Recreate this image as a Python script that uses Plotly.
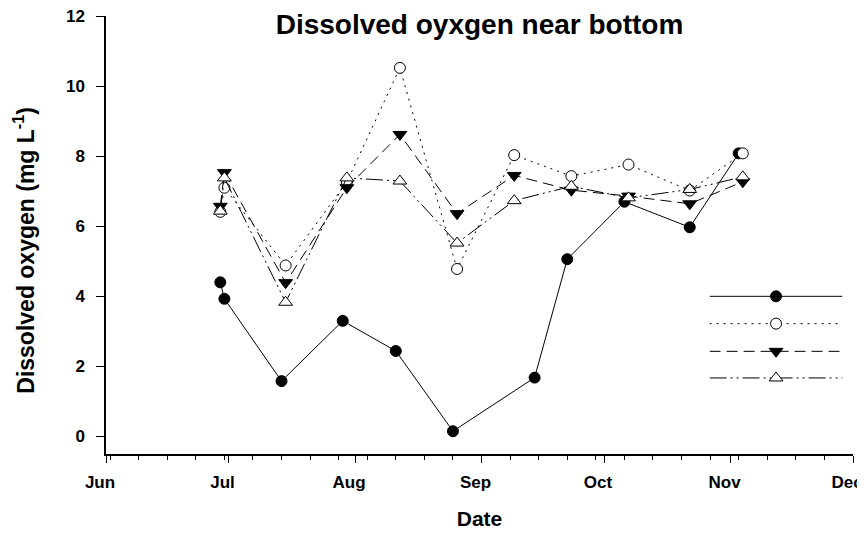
import plotly.graph_objects as go

# sampling dates (station with filled circles was sampled on slightly different days)
dates_a = ['2009-06-29', '2009-06-30', '2009-07-14', '2009-07-29', '2009-08-11', '2009-08-25',
           '2009-09-14', '2009-09-22', '2009-10-06', '2009-10-22', '2009-11-03']
dates_b = ['2009-06-29', '2009-06-30', '2009-07-15', '2009-07-30', '2009-08-12', '2009-08-26',
           '2009-09-09', '2009-09-23', '2009-10-07', '2009-10-22', '2009-11-04']

# dissolved oxygen near bottom (mg/L)
do_filled_circle = [4.40, 3.93, 1.58, 3.30, 2.44, 0.15, 1.68, 5.06, 6.70, 5.97, 8.08]
do_open_circle = [6.41, 7.10, 4.88, 7.26, 10.52, 4.78, 8.03, 7.43, 7.76, 7.02, 8.08]
do_filled_tri = [6.57, 7.53, 4.39, 7.10, 8.62, 6.36, 7.45, 7.03, 6.86, 6.64, 7.27]
do_open_tri = [6.43, 7.38, 3.83, 7.38, 7.29, 5.52, 6.73, 7.14, 6.81, 7.05, 7.41]

FONT = 'Liberation Sans, Arial, sans-serif'

# page body has an 8px margin, so the figure is drawn 8px smaller than the window
W, H = 857, 526

styles = [
    dict(dash='solid', symbol='circle', fill='black', size=11),
    dict(dash='2px,5px', symbol='circle', fill='white', size=11),
    dict(dash='11px,6px', symbol='triangle-down', fill='black', size=12),
    dict(dash='17px,4px,2px,4px,2px,4px', symbol='triangle-up', fill='white', size=12),
]
series = [
    (dates_a, do_filled_circle),
    (dates_b, do_open_circle),
    (dates_b, do_filled_tri),
    (dates_b, do_open_tri),
]

fig = go.Figure()

for (x, y), st in zip(series, styles):
    fig.add_trace(go.Scatter(
        x=x, y=y, mode='lines+markers',
        line=dict(color='black', width=1, dash=st['dash']),
        marker=dict(symbol=st['symbol'], size=st['size'], color=st['fill'],
                    line=dict(color='black', width=1)),
        showlegend=False,
    ))

# key drawn inside the plot (no text labels in the original)
legend_rows = [4.0, 3.22, 2.43, 1.67]
for row, st in zip(legend_rows, styles):
    fig.add_trace(go.Scatter(
        x=[0, 0.5, 1], y=[row] * 3, xaxis='x2', mode='lines+markers',
        line=dict(color='black', width=1, dash=st['dash']),
        marker=dict(symbol=st['symbol'], size=st['size'], color=st['fill'],
                    opacity=[0, 1, 0], line=dict(color='black', width=1)),
        showlegend=False, hoverinfo='skip',
    ))

# y-axis title as a rotated annotation (sits a bit below the plot's centre in the original)
fig.add_annotation(
    text='Dissolved oxygen (mg L<sup>-1</sup>)', textangle=-90,
    xref='paper', yref='paper', x=-0.11, y=0.466,
    xanchor='center', yanchor='middle', showarrow=False,
    font=dict(size=23, weight='bold'),
)

fig.update_layout(
    width=W, height=H,
    margin=dict(l=98, r=12, t=8, b=80),
    paper_bgcolor='white', plot_bgcolor='rgba(0,0,0,0)',
    font=dict(family=FONT, color='black'),
    title=dict(text='Dissolved oyxgen near bottom', x=0.5, xref='paper',
               y=1 - 16 / H, yref='container', yanchor='middle',
               font=dict(size=28, weight='bold')),
    xaxis=dict(
        type='date', range=['2009-06-01', '2009-12-01'], automargin=False,
        tickmode='linear', tick0='2009-06-01', dtick='M1', tickformat='%b',
        ticks='outside', ticklen=7, tickwidth=1, tickcolor='black',
        ticklabelshift=-6, ticklabelstandoff=5, ticklabeloverflow='allow',
        tickfont=dict(size=17, weight='bold'),
        minor=dict(ticks='outside', ticklen=4, tickwidth=1, tickcolor='black',
                   tick0='2009-06-02', dtick=7 * 86400000, showgrid=False),
        showline=True, linecolor='black', linewidth=1.5,
        showgrid=False, zeroline=False,
        title=dict(text='Date', font=dict(size=21, weight='bold'), standoff=20),
    ),
    xaxis2=dict(domain=[0.808, 0.986], anchor='y', range=[0, 1], visible=False),
    yaxis=dict(
        range=[-0.5, 12], tick0=0, dtick=2, automargin=False,
        ticks='outside', ticklen=8, tickwidth=1, tickcolor='black',
        ticklabelstandoff=8, ticklabeloverflow='allow',
        tickfont=dict(size=17, weight='bold'),
        showline=True, linecolor='black', linewidth=1.5,
        showgrid=False, zeroline=False,
    ),
)

fig.write_html('out.html')
